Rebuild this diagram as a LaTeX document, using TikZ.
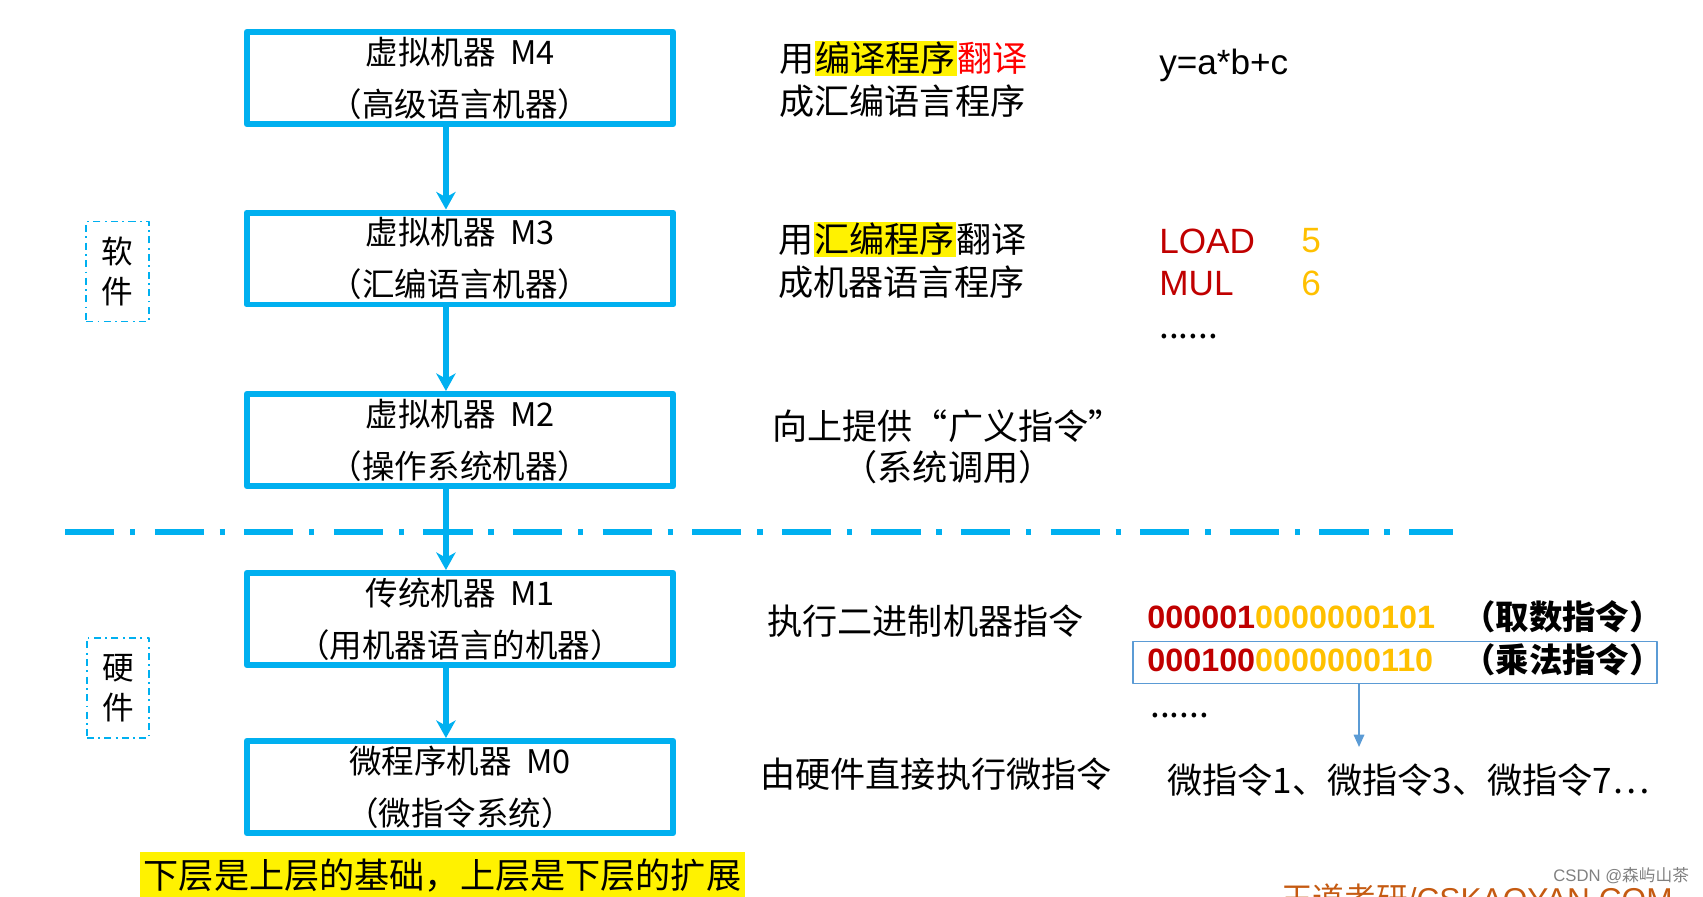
\documentclass[tikz,border=0pt]{standalone}
\usepackage{fontspec}
\setmainfont{Noto Sans CJK SC}
\newfontfamily\latinsans{Liberation Sans}
\usepackage{tikz}
\usetikzlibrary{arrows.meta,calc,positioning}
\definecolor{layerblue}{HTML}{00B0F0}
\definecolor{darkred}{HTML}{C00000}
\definecolor{gold}{HTML}{FFC000}
\definecolor{selblue}{HTML}{5B9BD5}
\definecolor{brandorange}{HTML}{C55A11}
\newcommand{\hl}[1]{{\setlength{\fboxsep}{0.6pt}\colorbox{yellow}{#1}}}
\tikzset{layer/.style={draw=layerblue,line width=3.4pt,minimum width=8.54cm,minimum height=1.84cm,align=center,inner sep=0pt,font=\fontsize{18.5}{29.5}\selectfont},
  sidetag/.style={draw=layerblue,line width=0.9pt,dash pattern=on 4pt off 2.5pt on 1pt off 2.5pt,minimum width=1.25cm,minimum height=2.0cm,align=center,inner sep=0pt,font=\fontsize{18}{23}\selectfont},
  desc/.style={anchor=west,align=left,inner sep=0pt,font=\fontsize{20}{24.4}\selectfont},
  code/.style={anchor=west,align=left,inner sep=0pt,font=\latinsans\fontsize{20}{24}\selectfont},
  bits/.style={anchor=west,inner sep=0pt,font=\latinsans\bfseries\fontsize{18.4}{22}\selectfont},
  note/.style={anchor=west,inner sep=0pt,font=\fontsize{19}{22}\selectfont\bfseries},
  down/.style={-{Stealth[length=10pt,width=11pt,inset=3pt]},draw=layerblue,line width=3.6pt}}

\begin{document}
\begin{tikzpicture}[x=0.02cm,y=-0.02cm,line join=round]
\useasboundingbox (0,0) rectangle (1703,896);
\clip (0,0) rectangle (1703,896);
% --- machine levels
\node[layer] (m4) at (460,78) {虚拟机器~~M4\\（高级语言机器）};
\node[layer] (m3) at (460,258.5) {虚拟机器~~M3\\（汇编语言机器）};
\node[layer] (m2) at (460,440) {虚拟机器~~M2\\（操作系统机器）};
\node[layer] (m1) at (460,619) {传统机器~~M1\\（用机器语言的机器）};
\node[layer] (m0) at (460,787) {微程序机器~~M0\\（微指令系统）};
% --- software / hardware split
\draw[layerblue,line width=3.4pt,dash pattern=on 28pt off 9pt on 3pt off 11pt] (65,532) -- (1453,532);
\foreach \a/\b in {m4/m3,m3/m2,m2/m1,m1/m0}
  \draw[down] ([xshift=-8pt]\a.south) -- ([xshift=-8pt]\b.north);
\node[sidetag] (soft) at (117.5,271.5) {软\\件};
\node[sidetag] (hard) at (118,688) {硬\\件};
% --- what each level does
\node[desc] (d4) at (779,79.5) {用\hl{编译程序}\textcolor{red}{翻译}\\成汇编语言程序};
\node[desc] (d3) at (778,260.5) {用\hl{汇编程序}翻译\\成机器语言程序};
\node[desc,anchor=center,align=center,font=\fontsize{20}{23.3}\selectfont] (d2) at (948,446.5) {向上提供“广义指令”\\（系统调用）};
\node[desc] (d1) at (767,621) {执行二进制机器指令};
\node[desc] (d0) at (760,774) {由硬件直接执行微指令};
% --- examples
\node[code] (hll) at (1159,65) {y=a*b+c};
\node[code,text=darkred] (ops) at (1159,262) {LOAD\\MUL};
\node[code,text=gold] (args) at (1301,262) {5\\6};
\node[desc,anchor=base west] (asmdots) at (1159,338) {......};
\node[bits] (bin1) at (1147,617) {\textcolor{darkred}{000001}\textcolor{gold}{0000000101}};
\node[note] (n1) at (1462,617) {（取数指令）};
\node[draw=selblue,line width=1.1pt,minimum width=10.48cm,minimum height=0.84cm,inner sep=0pt] (sel) at (1395,662.5) {};
\node[bits] (bin2) at (1147,660) {\textcolor{darkred}{000100}\textcolor{gold}{0000000110}};
\node[note] (n2) at (1462,660) {（乘法指令）};
\node[desc,anchor=base west] (bindots) at (1150,717) {......};
\coordinate (mtip) at (1359,747);
\draw[-{Triangle[length=7pt,width=6pt]},selblue,line width=0.9pt] (sel.south -| mtip) -- (mtip);
\node[desc] (micro) at (1167,780) {微指令1、微指令3、微指令7…};
% --- footer
\node[fill=yellow,inner xsep=2pt,inner ysep=4pt,font=\fontsize{20}{24}\selectfont] (base) at (442.5,876) {下层是上层的基础，上层是下层的扩展};
\node[anchor=base west,inner sep=0pt,text=brandorange,font=\fontsize{18}{20}\selectfont] (brand) at (1281,910) {王道考研{\latinsans /CSKAOYAN.COM}};
\node[anchor=west,inner sep=0pt,text=gray,font=\fontsize{9.5}{11}\selectfont] (csdn) at (1553,876) {{\latinsans CSDN @}森屿山茶};
\end{tikzpicture}
\end{document}
